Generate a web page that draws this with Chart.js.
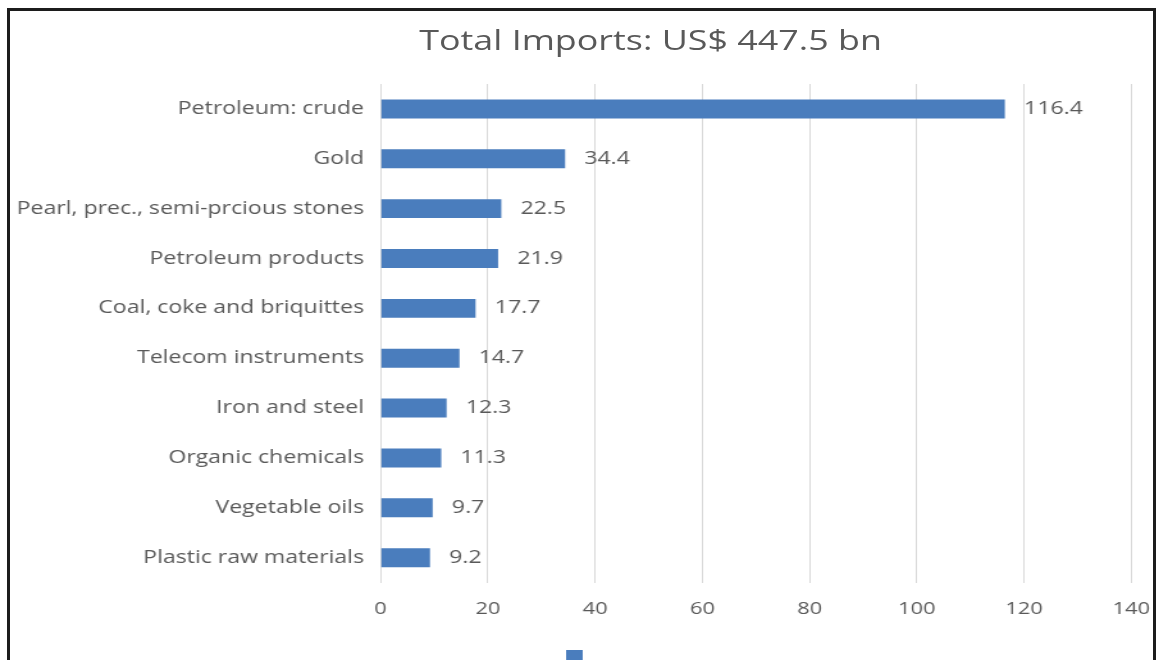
<!DOCTYPE html>
<html>
<head>
<meta charset="utf-8">
<script src="https://cdn.jsdelivr.net/npm/chart.js@4"></script>
<style>
  html, body { margin: 0; padding: 0; background: #fff; overflow: hidden; }
  #page { position: relative; width: 1159px; height: 660px; overflow: hidden; }
  #frame { position: absolute; left: 7px; top: 8px; width: 1143px; height: 700px;
           border-left: 3px solid #1c1c1c; border-top: 3px solid #1c1c1c; border-right: 3px solid #1c1c1c; pointer-events: none; }
  #stretch { position: absolute; left: 0; top: 0; width: 914px; height: 690px;
             transform: scale(1.2807, 1); transform-origin: 0 0; }
  #title { position: absolute; left: 0; width: 1016px; top: 20px; text-align: center;
           font-family: "Open Sans", sans-serif; font-size: 28px; color: #595959; white-space: nowrap; }
</style>
</head>
<body>
<div id="page">
  <div id="stretch">
    <canvas id="c" width="914" height="690"></canvas>
    <div id="title">Total Imports: US$ 447.5 bn</div>
  </div>
  <div id="frame"></div>
</div>
<script>
const categories = [
  "Petroleum: crude",
  "Gold",
  "Pearl, prec., semi-prcious stones",
  "Petroleum products",
  "Coal, coke and briquittes",
  "Telecom instruments",
  "Iron and steel",
  "Organic chemicals",
  "Vegetable oils",
  "Plastic raw materials"
];
const importValues = [116.4, 34.4, 22.5, 21.9, 17.7, 14.7, 12.3, 11.3, 9.7, 9.2];
const xTicks = [0, 20, 40, 60, 80, 100, 120, 140];

const FONT = "Open Sans";
const GREY = "#595959";

const valueLabels = {
  id: 'valueLabels',
  afterDatasetsDraw(chart) {
    const ctx = chart.ctx;
    const meta = chart.getDatasetMeta(0);
    ctx.save();
    ctx.font = "18px '" + FONT + "'";
    ctx.fillStyle = GREY;
    ctx.textAlign = 'left';
    ctx.textBaseline = 'middle';
    meta.data.forEach((bar, i) => {
      ctx.fillText(importValues[i].toFixed(1), bar.x + 15, bar.y);
    });
    ctx.restore();
  }
};

new Chart(document.getElementById('c'), {
  type: 'bar',
  data: {
    labels: categories,
    datasets: [{
      label: '',
      data: importValues,
      backgroundColor: '#4a7dbd',
      borderWidth: 0,
      categoryPercentage: 1,
      barPercentage: 0.38
    }]
  },
  options: {
    indexAxis: 'y',
    responsive: false,
    animation: false,
    layout: { padding: { top: 84, left: 0, right: 0, bottom: 5 } },
    scales: {
      x: {
        min: 0, max: 140,
        afterBuildTicks(scale) { scale.ticks = xTicks.map(v => ({ value: v })); },
        grid: { color: '#d9d9d9', drawTicks: false, lineWidth: 1 },
        border: { display: false },
        ticks: { color: GREY, font: { family: FONT, size: 17 }, padding: 16 }
      },
      y: {
        grid: { display: false, drawTicks: false },
        border: { display: false },
        ticks: { color: GREY, font: { family: FONT, size: 18 }, padding: 13 }
      }
    },
    plugins: {
      title: { display: false },
      tooltip: { enabled: false },
      legend: {
        display: true,
        position: 'bottom',
        labels: { boxWidth: 13, boxHeight: 16, padding: 6, font: { size: 34 } }
      }
    }
  },
  plugins: [valueLabels]
});
</script>
</body>
</html>
